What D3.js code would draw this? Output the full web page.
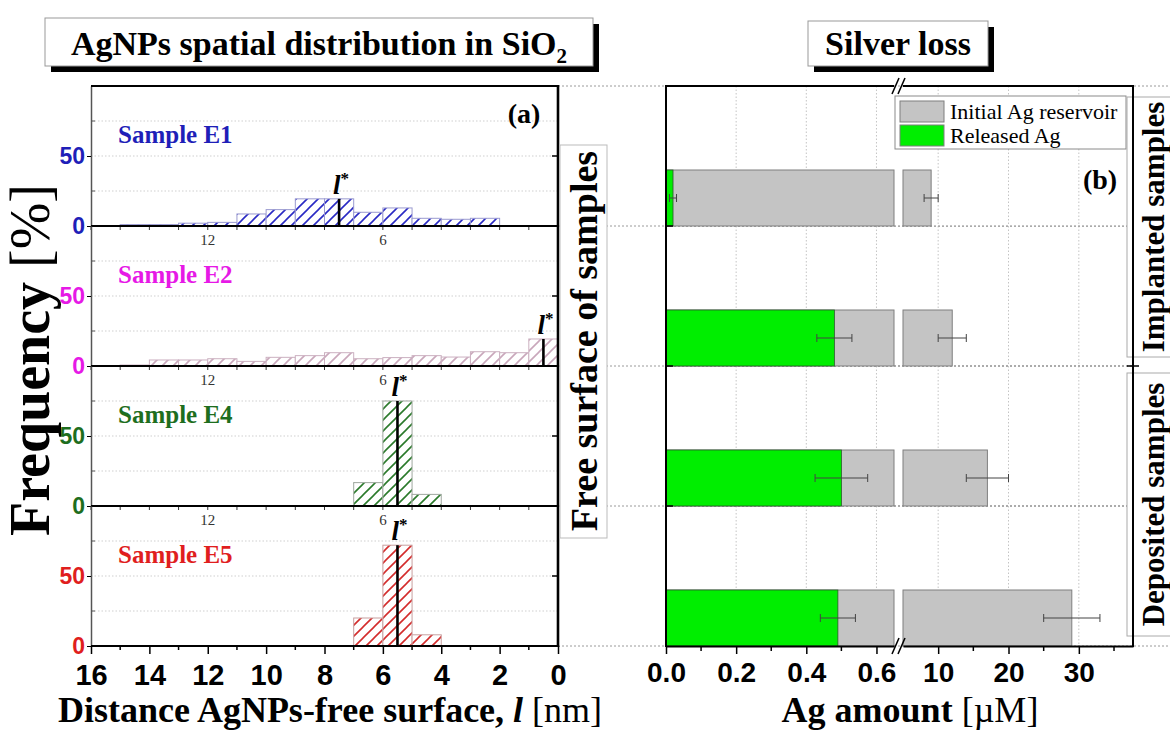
<!DOCTYPE html>
<html>
<head>
<meta charset="utf-8">
<script src="https://cdn.jsdelivr.net/npm/d3@7"></script>
<style>
  body { margin: 0; background: #fff; }
  svg { font-family: "Liberation Serif", "Times New Roman", serif; }
</style>
</head>
<body>
<div id="chart"></div>
<script>
// Histogram data, panel (a): bins are [low, low+1] nm
var binLow = [14, 13, 12, 11, 10, 9, 8, 7, 6, 5, 4, 3, 2, 1, 0];
var freqE1 = [1, 1, 2, 2.6, 8.6, 11.7, 19.4, 19.4, 9.8, 12.9, 5.5, 4.8, 5.5, 0, 0];
var freqE2 = [0.7, 4.3, 4.3, 5.2, 3.3, 6.2, 7.4, 9.5, 5.2, 6, 7.4, 6.4, 10.2, 9.5, 19.3];
var freqE4 = [0, 0, 0, 0, 0, 0, 0, 0, 16.7, 75, 8.3, 0, 0, 0, 0];
var freqE5 = [0, 0, 0, 0, 0, 0, 0, 0, 20, 72, 8, 0, 0, 0, 0];
var sampleNames = ["Sample E1", "Sample E2", "Sample E4", "Sample E5"];
var lStar = [7.5, 0.5, 5.5, 5.5];
var freqTicks = [0, 50];
var freqMinor = [25, 75];
var distTicks = [16, 14, 12, 10, 8, 6, 4, 2, 0];
var innerTickLabels = [12, 6];

// Silver loss data, panel (b)
var rowNames = ["E1", "E2", "E4", "E5"];
var initialAg = [9, 12, 17, 29];
var initialAgErr = [1, 2, 3, 4];
var releasedAg = [0.02, 0.48, 0.50, 0.49];
var releasedAgErr = [0.01, 0.05, 0.075, 0.05];
var agTicksLow = [0, 0.2, 0.4, 0.6];
var agMinorLow = [0.1, 0.3, 0.5];
var agTicksHigh = [10, 20, 30];
var agMinorHigh = [15, 25, 35];

var allFreq = [freqE1, freqE2, freqE4, freqE5];
var labelColors = ["#1f1fb8", "#e619e6", "#1e6e1e", "#e01e1e"];
var hatchColors = ["#2a2ac4", "#c9a7bb", "#2b7a2b", "#d42c2c"];
var outlineColors = ["#9a9ad0", "#cbb0c0", "#a0a8a0", "#c8a0a0"];

var svg = d3.select("#chart").append("svg")
  .attr("width", 1170)
  .attr("height", 733);

var defs = svg.append("defs");
hatchColors.forEach(function(c, i) {
  var p = defs.append("pattern")
    .attr("id", "hatch" + i)
    .attr("patternUnits", "userSpaceOnUse")
    .attr("width", 11)
    .attr("height", 11);
  p.append("rect").attr("width", 11).attr("height", 11).attr("fill", "#fff");
  p.append("path")
    .attr("d", "M-1,1 l2,-2 M0,11 l11,-11 M10,12 l2,-2")
    .attr("stroke", c)
    .attr("stroke-width", 1.6);
});

// ---------- panel (a) ----------
var panelH = 140;
var topA = 86;
var xDist = d3.scaleLinear().domain([16, 0]).range([91, 558]);

// dotted guide lines crossing the middle area
var guideY = [86, 226, 366, 506, 646];
svg.selectAll("line.guide")
  .data(guideY)
  .enter()
  .append("line")
  .attr("x1", 558)
  .attr("x2", function(d, i) { return (i == 0 || i == 4) ? 1170 : 1133; })
  .attr("y1", d => d)
  .attr("y2", d => d)
  .attr("stroke", "#9a9a9a")
  .attr("stroke-width", 1)
  .attr("stroke-dasharray", "2,2");

allFreq.forEach(function(freq, i) {
  var top = topA + i * panelH;
  var y = d3.scaleLinear().domain([0, 100]).range([top + panelH, top]);
  var g = svg.append("g");

  // grid
  g.selectAll("line.grid")
    .data([25, 50, 75])
    .enter()
    .append("line")
    .attr("x1", 91).attr("x2", 558)
    .attr("y1", d => y(d)).attr("y2", d => y(d))
    .attr("stroke", "#cfcfcf")
    .attr("stroke-dasharray", "1.5,2");

  var bins = binLow.map(function(b, k) { return {low: b, f: freq[k]}; })
    .filter(d => d.f > 0);

  g.selectAll("rect.bar")
    .data(bins)
    .enter()
    .append("rect")
    .attr("x", d => xDist(d.low + 1))
    .attr("width", d => xDist(d.low) - xDist(d.low + 1))
    .attr("y", d => y(d.f))
    .attr("height", d => y(0) - y(d.f))
    .attr("fill", "url(#hatch" + i + ")")
    .attr("stroke", outlineColors[i])
    .attr("stroke-width", 1);

  // l* marker
  var k = binLow.indexOf(Math.floor(lStar[i]));
  var fTop = freq[k];
  g.append("line")
    .attr("x1", xDist(lStar[i])).attr("x2", xDist(lStar[i]))
    .attr("y1", y(0)).attr("y2", y(fTop))
    .attr("stroke", "#000")
    .attr("stroke-width", 2.6);
  var lt = g.append("text")
    .attr("x", xDist(lStar[i]) + 2)
    .attr("y", y(fTop) - 5)
    .attr("text-anchor", "middle")
    .style("font-size", "27px")
    .style("font-weight", "bold")
    .style("font-style", "italic");
  lt.append("tspan").text("l");
  lt.append("tspan").attr("dy", -10).style("font-size", "17px").style("font-style", "normal").text("*");

  // sample label
  g.append("text")
    .attr("x", 118)
    .attr("y", top + 57)
    .style("font-size", "25px")
    .style("font-weight", "bold")
    .attr("fill", labelColors[i])
    .text(sampleNames[i]);

  // left axis
  var ax = g.append("g")
    .attr("transform", "translate(91,0)")
    .call(d3.axisLeft(y).tickValues(freqTicks).tickSize(4).tickPadding(2).tickSizeOuter(0));
  ax.select(".domain").attr("stroke", "#555").attr("stroke-width", 1.5);
  ax.selectAll("text")
    .style("font-size", "23px")
    .style("font-weight", "bold")
    .attr("fill", labelColors[i]);
  g.selectAll("line.minor")
    .data(freqMinor)
    .enter()
    .append("line")
    .attr("x1", 91).attr("x2", 95)
    .attr("y1", d => y(d)).attr("y2", d => y(d))
    .attr("stroke", "#555");

  // right edge inward tick
  g.append("line")
    .attr("x1", 558).attr("x2", 552)
    .attr("y1", y(50)).attr("y2", y(50))
    .attr("stroke", "#000").attr("stroke-width", 1.5);

  if (i < 3) {
    // inner baseline with small ticks, labels 12 and 6
    g.selectAll("line.tk")
      .data(d3.range(0, 17))
      .enter()
      .append("line")
      .attr("x1", d => xDist(d)).attr("x2", d => xDist(d))
      .attr("y1", y(0)).attr("y2", y(0) + 4)
      .attr("stroke", "#333");
    g.selectAll("text.inner")
      .data(innerTickLabels)
      .enter()
      .append("text")
      .attr("x", d => xDist(d))
      .attr("y", y(0) + 19)
      .attr("text-anchor", "middle")
      .style("font-size", "15px")
      .attr("fill", "#333")
      .text(d => d);
  } else {
    var bx = g.append("g")
      .attr("transform", "translate(0," + y(0) + ")")
      .call(d3.axisBottom(xDist).tickValues(distTicks).tickSize(8).tickPadding(10).tickSizeOuter(0));
    bx.select(".domain").remove();
    bx.selectAll("line").attr("stroke", "#000").attr("stroke-width", 1.5);
    bx.selectAll("text")
      .style("font-size", "29px")
      .style("font-weight", "bold")
      .attr("fill", "#000");
    g.selectAll("line.minx")
      .data([15, 13, 11, 9, 7, 5, 3, 1])
      .enter()
      .append("line")
      .attr("x1", d => xDist(d)).attr("x2", d => xDist(d))
      .attr("y1", y(0)).attr("y2", y(0) + 4)
      .attr("stroke", "#000").attr("stroke-width", 1.5);
  }

  g.append("line")
    .attr("x1", 91).attr("x2", 558)
    .attr("y1", y(0)).attr("y2", y(0))
    .attr("stroke", "#000").attr("stroke-width", 2);
});

// frame of panel (a)
svg.append("line").attr("x1", 91).attr("x2", 559).attr("y1", 86).attr("y2", 86)
  .attr("stroke", "#000").attr("stroke-width", 2);
svg.append("line").attr("x1", 558).attr("x2", 558).attr("y1", 85).attr("y2", 647)
  .attr("stroke", "#000").attr("stroke-width", 2.6);

svg.append("text")
  .attr("x", 524).attr("y", 123)
  .attr("text-anchor", "middle")
  .style("font-size", "28px").style("font-weight", "bold")
  .text("(a)");

// ---------- panel (b) ----------
var xL = d3.scaleLinear().domain([0, 0.65]).range([666, 894]);
var xR = d3.scaleLinear().domain([5, 37.7]).range([903, 1133]);
var yB = d3.scaleBand().domain(rowNames).range([86, 646]);
var bw = yB.bandwidth();

var gb = svg.append("g");
gb.append("rect").attr("x", 666).attr("y", 87).attr("width", 467).attr("height", 139).attr("fill", "#fff");

gb.selectAll("line.vgl")
  .data(agTicksLow.filter(d => d > 0))
  .enter()
  .append("line")
  .attr("x1", d => xL(d)).attr("x2", d => xL(d))
  .attr("y1", 86).attr("y2", 646)
  .attr("stroke", "#c4c4c4").attr("stroke-dasharray", "1.5,2");
gb.selectAll("line.vgh")
  .data(agTicksHigh)
  .enter()
  .append("line")
  .attr("x1", d => xR(d)).attr("x2", d => xR(d))
  .attr("y1", 86).attr("y2", 646)
  .attr("stroke", "#c4c4c4").attr("stroke-dasharray", "1.5,2");
gb.selectAll("line.hgl")
  .data(rowNames.slice(0, 3))
  .enter()
  .append("line")
  .attr("x1", 666).attr("x2", 1133)
  .attr("y1", d => yB(d) + bw).attr("y2", d => yB(d) + bw)
  .attr("stroke", "#8a8a8a").attr("stroke-dasharray", "2,2");

var rows = rowNames.map(function(r, i) {
  return {r: r, ini: initialAg[i], iniErr: initialAgErr[i], rel: releasedAg[i], relErr: releasedAgErr[i]};
});
var barY = d => yB(d.r) + bw * 0.6;
var barH = bw * 0.4;

gb.selectAll("rect.iniL")
  .data(rows)
  .enter()
  .append("rect")
  .attr("x", xL(0))
  .attr("width", d => xL(Math.min(d.ini, 0.65)) - xL(0))
  .attr("y", barY)
  .attr("height", barH)
  .attr("fill", "#c4c4c4")
  .attr("stroke", "#7f7f7f");
gb.selectAll("rect.iniR")
  .data(rows)
  .enter()
  .append("rect")
  .attr("x", xR(5))
  .attr("width", d => xR(d.ini) - xR(5))
  .attr("y", barY)
  .attr("height", barH)
  .attr("fill", "#c4c4c4")
  .attr("stroke", "#7f7f7f");
gb.selectAll("rect.rel")
  .data(rows)
  .enter()
  .append("rect")
  .attr("x", xL(0))
  .attr("width", d => xL(d.rel) - xL(0))
  .attr("y", barY)
  .attr("height", barH)
  .attr("fill", "#00ee00")
  .attr("stroke", "#2a5a2a")
  .attr("stroke-width", 0.8);

function errBar(sel, x, lo, hi, cy) {
  sel.append("line").attr("x1", x(lo)).attr("x2", x(hi)).attr("y1", cy).attr("y2", cy)
    .attr("stroke", "#444").attr("stroke-width", 1);
  [lo, hi].forEach(function(v) {
    sel.append("line").attr("x1", x(v)).attr("x2", x(v)).attr("y1", cy - 4).attr("y2", cy + 4)
      .attr("stroke", "#444").attr("stroke-width", 1);
  });
}
rows.forEach(function(d) {
  var cy = barY(d) + barH / 2;
  errBar(gb, xL, d.rel - d.relErr, d.rel + d.relErr, cy);
  errBar(gb, xR, d.ini - d.iniErr, d.ini + d.iniErr, cy);
});

// bottom axes (broken)
var axL = gb.append("g").attr("transform", "translate(0,646)")
  .call(d3.axisBottom(xL).tickValues(agTicksLow).tickFormat(d3.format(".1f")).tickSize(8).tickPadding(8).tickSizeOuter(0));
var axR = gb.append("g").attr("transform", "translate(0,646)")
  .call(d3.axisBottom(xR).tickValues(agTicksHigh).tickSize(8).tickPadding(8).tickSizeOuter(0));
[axL, axR].forEach(function(a) {
  a.select(".domain").attr("stroke", "#000").attr("stroke-width", 2);
  a.selectAll("line").attr("stroke", "#000").attr("stroke-width", 1.5);
  a.selectAll("text").style("font-size", "28px").style("font-weight", "bold").attr("fill", "#000");
});
gb.selectAll("line.mnl")
  .data(agMinorLow.map(v => xL(v)).concat(agMinorHigh.map(v => xR(v))))
  .enter()
  .append("line")
  .attr("x1", d => d).attr("x2", d => d)
  .attr("y1", 646).attr("y2", 651)
  .attr("stroke", "#000").attr("stroke-width", 1.5);

// frame of panel (b)
gb.append("line").attr("x1", 666).attr("x2", 894).attr("y1", 86).attr("y2", 86).attr("stroke", "#000").attr("stroke-width", 2);
gb.append("line").attr("x1", 903).attr("x2", 1134).attr("y1", 86).attr("y2", 86).attr("stroke", "#000").attr("stroke-width", 2);
gb.append("line").attr("x1", 666).attr("x2", 666).attr("y1", 85).attr("y2", 647).attr("stroke", "#000").attr("stroke-width", 2);
gb.append("line").attr("x1", 1133).attr("x2", 1133).attr("y1", 85).attr("y2", 647).attr("stroke", "#000").attr("stroke-width", 2);
[86, 646].forEach(function(yy) {
  [0, 6].forEach(function(o) {
    gb.append("line")
      .attr("x1", 892 + o).attr("y1", yy + 8)
      .attr("x2", 899 + o).attr("y2", yy - 8)
      .attr("stroke", "#000").attr("stroke-width", 1.5);
  });
});
gb.selectAll("line.rtk")
  .data(rowNames.slice(0, 3))
  .enter()
  .append("line")
  .attr("x1", 1127).attr("x2", 1139)
  .attr("y1", d => yB(d) + bw).attr("y2", d => yB(d) + bw)
  .attr("stroke", "#000").attr("stroke-width", 1.5);
gb.selectAll("line.ltk")
  .data(rowNames.slice(0, 3))
  .enter()
  .append("line")
  .attr("x1", 666).attr("x2", 673)
  .attr("y1", d => yB(d) + bw).attr("y2", d => yB(d) + bw)
  .attr("stroke", "#000").attr("stroke-width", 1.5);

// legend
var lg = gb.append("g");
lg.append("rect").attr("x", 895).attr("y", 96).attr("width", 231).attr("height", 53)
  .attr("fill", "#fff").attr("stroke", "#8a8a8a");
var legendItems = [{t: "Initial Ag reservoir", c: "#c4c4c4"}, {t: "Released Ag", c: "#00ee00"}];
legendItems.forEach(function(d, i) {
  lg.append("rect").attr("x", 900).attr("y", 101 + i * 24).attr("width", 44).attr("height", 21)
    .attr("fill", d.c).attr("stroke", "#7f7f7f");
  lg.append("text").attr("x", 950).attr("y", 119 + i * 24)
    .style("font-size", "22px").text(d.t);
});

gb.append("text")
  .attr("x", 1100).attr("y", 189)
  .attr("text-anchor", "middle")
  .style("font-size", "28px").style("font-weight", "bold")
  .text("(b)");

// side labels for sample groups
var groups = [{t: "Implanted samples", y0: 97, y1: 357}, {t: "Deposited samples", y0: 373, y1: 636}];
groups.forEach(function(d) {
  svg.append("rect").attr("x", 1127).attr("y", d.y0).attr("width", 60).attr("height", d.y1 - d.y0)
    .attr("fill", "#fff").attr("stroke", "#aaa");
  svg.append("text")
    .attr("transform", "translate(1153," + ((d.y0 + d.y1) / 2) + ") rotate(-90)")
    .attr("text-anchor", "middle")
    .attr("dominant-baseline", "central")
    .style("font-size", "31px").style("font-weight", "bold")
    .text(d.t);
});
svg.append("line").attr("x1", 1133).attr("x2", 1133).attr("y1", 85).attr("y2", 647).attr("stroke", "#000").attr("stroke-width", 2);

// middle label
svg.append("rect").attr("x", 560).attr("y", 145).attr("width", 47).attr("height", 393)
  .attr("fill", "#fff").attr("stroke", "#bbb");
svg.append("text")
  .attr("transform", "translate(584,341) rotate(-90)")
  .attr("text-anchor", "middle")
  .attr("dominant-baseline", "central")
  .style("font-size", "38px").style("font-weight", "bold")
  .text("Free surface of samples");

// y title
var yt = svg.append("text")
  .attr("transform", "translate(49,360) rotate(-90)")
  .attr("text-anchor", "middle")
  .style("font-size", "56px");
yt.append("tspan").style("font-weight", "bold").text("Frequency ");
yt.append("tspan").text("[%]");

// x titles
var xt = svg.append("text")
  .attr("x", 330).attr("y", 722)
  .attr("text-anchor", "middle")
  .style("font-size", "36px");
xt.append("tspan").style("font-weight", "bold").text("Distance AgNPs-free surface, ");
xt.append("tspan").style("font-weight", "bold").style("font-style", "italic").text("l");
xt.append("tspan").text(" [nm]");

var xt2 = svg.append("text")
  .attr("x", 910).attr("y", 722)
  .attr("text-anchor", "middle")
  .style("font-size", "36px");
xt2.append("tspan").style("font-weight", "bold").text("Ag amount ");
xt2.append("tspan").text("[\u00b5M]");

// title boxes with shadow
var titles = [
  {x: 45, y: 18, w: 548, h: 48},
  {x: 808, y: 21, w: 180, h: 45}
];
titles.forEach(function(d) {
  svg.append("rect").attr("x", d.x + 6).attr("y", d.y + 6).attr("width", d.w).attr("height", d.h).attr("fill", "#000");
  svg.append("rect").attr("x", d.x).attr("y", d.y).attr("width", d.w).attr("height", d.h)
    .attr("fill", "#fff").attr("stroke", "#999");
});
var t1 = svg.append("text").attr("x", 319).attr("y", 55)
  .attr("text-anchor", "middle")
  .style("font-size", "34px").style("font-weight", "bold");
t1.append("tspan").text("AgNPs spatial distribution in SiO");
t1.append("tspan").attr("dy", 8).style("font-size", "21px").text("2");
svg.append("text").attr("x", 898).attr("y", 55)
  .attr("text-anchor", "middle")
  .style("font-size", "34px").style("font-weight", "bold")
  .text("Silver loss");
</script>
</body>
</html>
